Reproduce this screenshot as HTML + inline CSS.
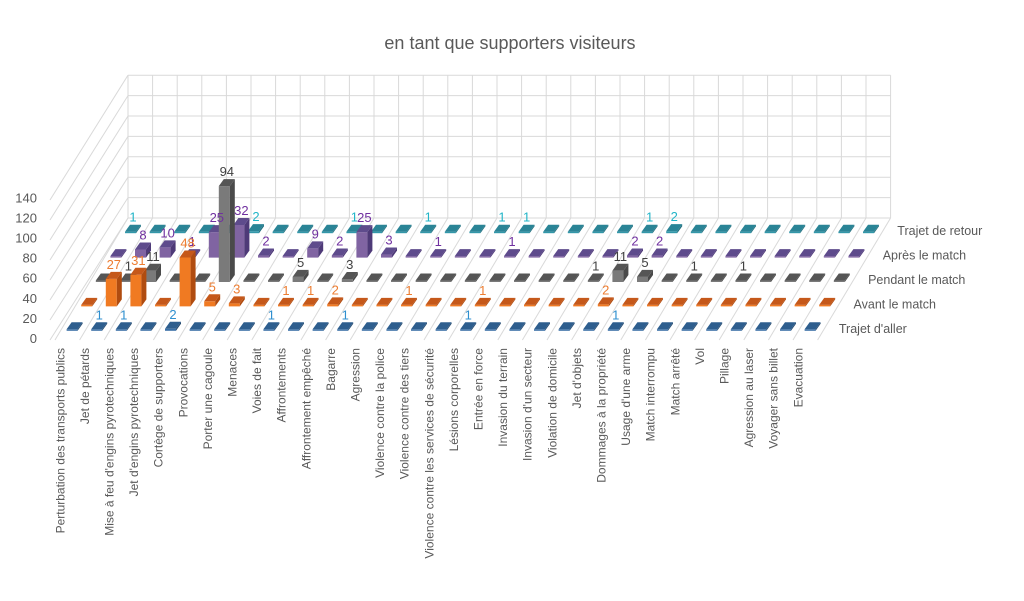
<!DOCTYPE html>
<html><head><meta charset="utf-8"><style>
body{margin:0;background:#fff}
svg{display:block;font-family:"Liberation Sans",sans-serif}
</style></head><body>
<svg id="chart" width="1024" height="601" viewBox="0 0 1024 601" xmlns="http://www.w3.org/2000/svg">
<rect width="1024" height="601" fill="#fff"/>
<text x="510" y="49" text-anchor="middle" font-size="18" fill="#595959">en tant que supporters visiteurs</text>
<g id="grid"></g>
<g id="yaxis"></g>
<g id="bars"></g>
<g id="vals"></g>
<g id="xaxis"></g>
<g id="series"></g>
</svg>
<script>
const categories = ["Perturbation des transports publics","Jet de pétards","Mise à feu d'engins pyrotechniques","Jet d'engins pyrotechniques","Cortège de supporters","Provocations","Porter une cagoule","Menaces","Voies de fait","Affrontements","Affrontement empêché","Bagarre","Agression","Violence contre la police","Violence contre des tiers","Violence contre les services de sécurité","Lésions corporelles","Entrée en force","Invasion du terrain","Invasion d'un secteur","Violation de domicile","Jet d'objets","Dommages à la propriété","Usage d'une arme","Match interrompu","Match arrêté","Vol","Pillage","Agression au laser","Voyager sans billet","Evacuation"];
const seriesNames = ["Trajet d'aller","Avant le match","Pendant le match","Après le match","Trajet de retour"];
const trajetAller = [0,1,1,0,2,0,0,0,1,0,0,1,0,0,0,0,1,0,0,0,0,0,1,0,0,0,0,0,0,0,0];
const avantMatch = [0,27,31,0,48,5,3,0,1,1,2,0,0,1,0,0,1,0,0,0,0,2,0,0,0,0,0,0,0,0,0];
const pendantMatch = [0,1,11,0,0,94,0,0,5,0,3,0,0,0,0,0,0,0,0,0,1,11,5,0,1,0,1,0,0,0,0];
const apresMatch = [0,8,10,1,25,32,2,0,9,2,25,3,0,1,0,0,1,0,0,0,0,2,2,0,0,0,0,0,0,0,0];
const trajetRetour = [1,0,0,0,0,2,0,0,0,1,0,0,1,0,0,1,1,0,0,0,0,1,2,0,0,0,0,0,0,0,0];
const yTicks = [0,20,40,60,80,100,120,140];
const allSeries = [trajetAller,avantMatch,pendantMatch,apresMatch,trajetRetour];
const seriesTop = ["#2E5E8E","#C5581A","#555555","#5E4B8C","#2A8496"];
const seriesFront = ["#3A6FA6","#F07A22","#7A7A7A","#8064A2","#3398AA"];
const seriesSide = ["#24496E","#B04C10","#4A4A4A","#4E3A78","#22707F"];
const labelColor = ["#2F8FCF","#ED7D31","#404040","#7030A0","#22B5C8"];

const NS="http://www.w3.org/2000/svg";
const FX=55, FY=340, COLW=24.6, RDX=14.6, RDY=-24.4, NROWS=5, PPU=1.02;
function colX(i,r){return FX+COLW*(i+0.5)+RDX*(r+0.5);}
function rowY(r){return FY+RDY*(r+0.5);}
function valH(v){return v*PPU;}
function mk(tag,attrs,parent){const e=document.createElementNS(NS,tag);for(const k in attrs)e.setAttribute(k,attrs[k]);parent.appendChild(e);return e;}
const grid=document.getElementById('grid');
const g='#D9D9D9';
const BX=FX+RDX*NROWS, BY=FY+RDY*NROWS, N=categories.length;
// back wall
yTicks.forEach(t=>{const y=BY-t*1.02;const l=mk('line',{x1:BX,y1:y,x2:BX+COLW*N,y2:y,stroke:g},grid);
 const y0=FY-t*1.0;const l2=mk('line',{x1:FX-5,y1:y0,x2:BX,y2:y,stroke:g},grid);});
for(let j=0;j<=N;j++){const x=BX+COLW*j;const l=mk('line',{x1:x,y1:BY,x2:x,y2:BY-140*1.02,stroke:g},grid);
 const l2=mk('line',{x1:FX+COLW*j,y1:FY,x2:x,y2:BY,stroke:g},grid);}
// y axis
const ya=document.getElementById('yaxis');
yTicks.forEach(t=>{const tx=mk('text',{x:37,y:FY-2-t*1.005+5,'text-anchor':'end','font-size':13,fill:'#595959'},ya);tx.textContent=t;});
// bars
const bars=document.getElementById('bars'), vals=document.getElementById('vals');
const W=11, DX=5, DY=-7;
for(let r=NROWS-1;r>=0;r--){
 const data=allSeries[r];
 for(let i=0;i<N;i++){
  const cx=colX(i,r), by=rowY(r)+3, x0=cx-W/2-DX/2, h=Math.max(valH(data[i]),1.5), ty=by-h;
  const grp=mk('g',{},bars);
  mk('polygon',{points:`${x0},${by} ${x0+W},${by} ${x0+W},${ty} ${x0},${ty}`,fill:seriesFront[r]},grp);
  mk('polygon',{points:`${x0+W},${by} ${x0+W+DX},${by+DY} ${x0+W+DX},${ty+DY} ${x0+W},${ty}`,fill:seriesSide[r]},grp);
  mk('polygon',{points:`${x0},${ty} ${x0+W},${ty} ${x0+W+DX},${ty+DY} ${x0+DX},${ty+DY}`,fill:seriesTop[r]},grp);
  if(data[i]>0){const t=mk('text',{x:cx,y:ty+DY-3,'text-anchor':'middle','font-size':13,fill:labelColor[r]},vals);t.textContent=data[i];}
 }
}
// x labels
const xa=document.getElementById('xaxis');
categories.forEach((c,i)=>{const x=FX+COLW*(i+0.5)-3,y=348;const t=mk('text',{x:x,y:y,transform:`rotate(-90 ${x} ${y})`,'text-anchor':'end','font-size':12,fill:'#595959'},xa);t.textContent=c;});
// series labels
const sa=document.getElementById('series');
seriesNames.forEach((s,r)=>{const x=FX+COLW*N+RDX*(r+0.5)+14,y=rowY(r)+5;const t=mk('text',{x:x,y:y,'font-size':12.5,fill:'#595959'},sa);t.textContent=s;});
</script>
</body></html>
